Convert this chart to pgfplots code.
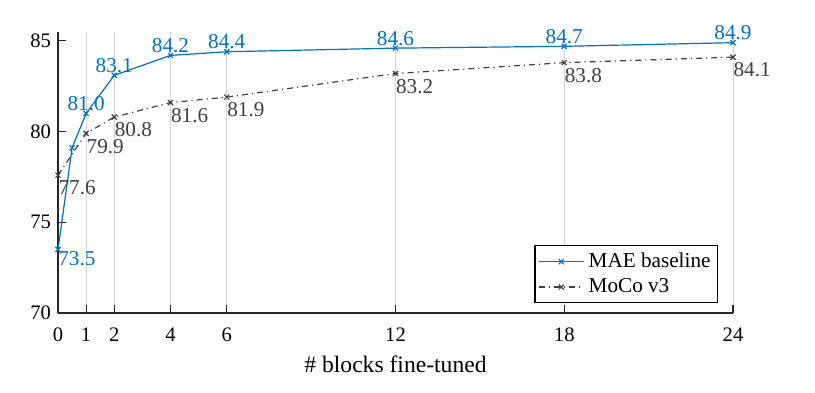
\documentclass[border=0pt]{standalone}
\usepackage{fontspec}
\setmainfont{Liberation Serif}
\usepackage{pgfplots}
\pgfplotsset{compat=1.18}
\definecolor{maeblue}{RGB}{0,114,189}
\definecolor{mocogray}{RGB}{64,64,64}
\begin{document}
\begin{tikzpicture}
\begin{axis}[
  name=ax, at={(0,0)}, anchor=south west,
  scale only axis, width=337.5pt, height=140.6pt,
  xmin=0, xmax=24, ymin=70, ymax=85.5,
  axis lines*=left, tick align=inside,
  xtick={0,1,2,4,6,12,18,24},
  ytick={70,75,80,85},
  xmajorgrids, major grid style={gray!35, line width=0.5pt},
  axis line style={line width=0.6pt, black!85},
  major tick length=4pt,
  tick style={line width=0.6pt, black!85},
  /pgf/number format/assume math mode=true,
  ticklabel style={font=\fontsize{10.3}{12}\selectfont},
  xticklabel style={yshift=-4pt},
  xlabel={\# blocks fine-tuned},
  xlabel style={font=\fontsize{11.8}{14}\selectfont, yshift=0pt},
  legend style={at={(rel axis cs:0.978,0.035)}, anchor=south east,
    font=\fontsize{10.6}{13}\selectfont, draw=black, line width=0.6pt,
    inner sep=1.5pt, row sep=0pt, cells={anchor=west}},
  legend image code/.code={\draw[mark repeat=2,mark phase=2] plot coordinates {(0cm,0cm) (0.4cm,0cm) (0.8cm,0cm)};},
  legend cell align=left,
  clip=false,
]
\addplot[color=maeblue, line width=0.6pt, mark=x, mark size=1.8pt,
  nodes near coords, point meta=explicit symbolic,
  every node near coord/.style={anchor=south, inner sep=1pt, text=maeblue, font=\fontsize{10.6}{13}\selectfont}]
  coordinates {(0,73.5)[] (0.5,79.1)[] (1,81.0)[81.0] (2,83.1)[83.1] (4,84.2)[84.2] (6,84.4)[84.4] (12,84.6)[84.6] (18,84.7)[84.7] (24,84.9)[84.9]};
\addlegendentry{MAE baseline}
\addplot[color=mocogray, line width=0.6pt, dash dot, mark=x, mark size=1.8pt, mark options={solid},
  nodes near coords, point meta=explicit symbolic,
  every node near coord/.style={anchor=north west, inner sep=1pt, xshift=-1pt, yshift=-1.5pt, text=mocogray, font=\fontsize{10.6}{13}\selectfont}]
  coordinates {(0,77.6)[77.6] (1,79.9)[79.9] (2,80.8)[80.8] (4,81.6)[81.6] (6,81.9)[81.9] (12,83.2)[83.2] (18,83.8)[83.8] (24,84.1)[84.1]};
\addlegendentry{MoCo v3}
\addplot[draw=none, forget plot,
  nodes near coords, point meta=explicit symbolic,
  every node near coord/.style={anchor=north west, inner sep=1pt, xshift=-1pt, text=maeblue, font=\fontsize{10.6}{13}\selectfont}]
  coordinates {(0,73.5)[73.5]};
\end{axis}
\path[use as bounding box] (-29pt,-39.5pt) rectangle (378.5pt,156.5pt);
\end{tikzpicture}
\end{document}
